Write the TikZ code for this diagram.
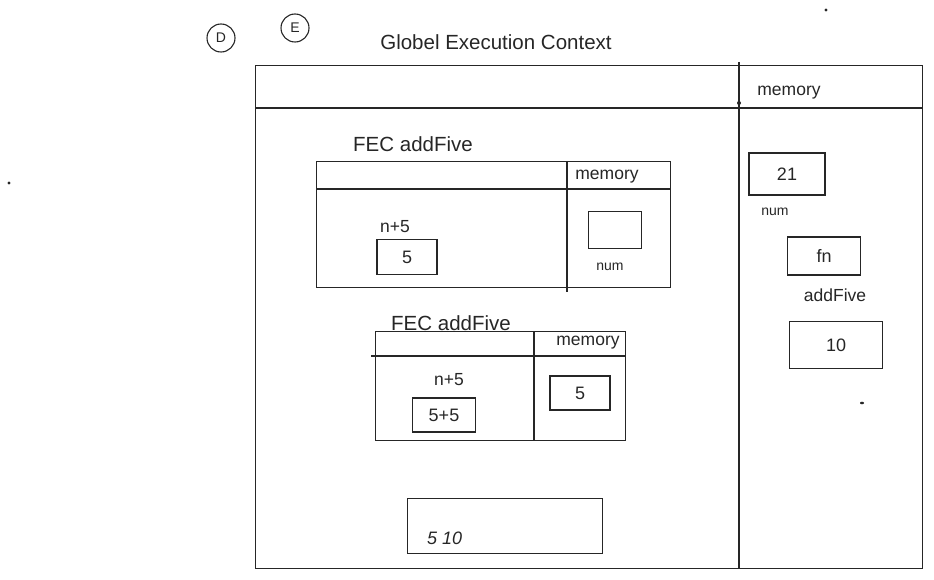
\documentclass[tikz,border=0pt]{standalone}
\usepackage{fontspec}
\setmainfont{Liberation Sans}
\begin{document}
\begin{tikzpicture}[x=1pt,y=-1pt,
  ink/.style={draw=black!85, line width=1.1pt},
  frame/.style={ink, rectangle, inner sep=0pt, anchor=north west},
  cell/.style={ink, rectangle, inner sep=0pt, text=black!85, font=\fontsize{18}{21}\selectfont},
  lbl/.style={inner sep=0pt, text=black!85, font=\fontsize{17.5}{21}\selectfont},
  big/.style={inner sep=0pt, text=black!85, font=\fontsize{20.5}{24}\selectfont},
  small/.style={inner sep=0pt, text=black!85, font=\fontsize{14}{17}\selectfont},
  badge/.style={ink, circle, minimum size=28pt, inner sep=0pt, text=black!85, font=\fontsize{14}{16}\selectfont}]
\useasboundingbox (0,0) rectangle (934,580);

% stray marks
\fill[black!85] (9,183) circle (1.6);
\fill[black!85] (826,10) circle (1.6);
\fill[black!85] (862,403) ellipse (2 and 1.3);

% badges and title
\node[badge] (badgeD) at (221,38) {D};
\node[badge] (badgeE) at (295,28) {E};
\node[big] (title) at (496,42) {Globel Execution Context};

% global execution context frame
\node[frame, minimum width=667pt, minimum height=503pt] (gec) at (255,65) {};
\coordinate (gecHL) at (255,108);
\coordinate (gecHR) at (922,108);
\coordinate (gecDT) at (739,62);
\coordinate (gecDB) at (739,568);
\draw[ink] (gecHL) -- (gecHR);
\draw[ink] (gecDT) -- (gecDB);
\fill[black!85] (739,103) circle (2);
\node[lbl] (gmem) at (789,93) {memory};

% global memory
\node[cell, minimum width=76pt, minimum height=42pt] (v21) at (787,174) {21};
\node[small] (gnum) at (775,212) {num};
\node[cell, minimum width=73pt, minimum height=38pt] (vfn) at (824,256) {fn};
\node[lbl] (gadd) at (835,295) {addFive};
\node[cell, minimum width=93pt, minimum height=47pt] (v10) at (836,345) {10};

% first function execution context
\node[big] (fec1t) at (413,144) {FEC addFive};
\node[frame, minimum width=354pt, minimum height=126pt] (fec1) at (316,161) {};
\coordinate (f1HL) at (316,189);
\coordinate (f1HR) at (670,189);
\coordinate (f1DT) at (567,161);
\coordinate (f1DB) at (567,292);
\draw[ink] (f1HL) -- (f1HR);
\draw[ink] (f1DT) -- (f1DB);
\node[lbl] (f1mem) at (607,177) {memory};
\node[lbl] (f1exp) at (395,227) {n+5};
\node[cell, minimum width=60pt, minimum height=35pt] (f1res) at (407,257) {5};
\node[cell, minimum width=53pt, minimum height=37pt] (f1slot) at (615,230) {};
\node[small] (f1num) at (610,267) {num};

% second function execution context
\node[big] (fec2t) at (451,323) {FEC addFive};
\node[frame, minimum width=250pt, minimum height=109pt] (fec2) at (375,331) {};
\coordinate (f2HL) at (371,356);
\coordinate (f2HR) at (625,356);
\coordinate (f2DT) at (534,331);
\coordinate (f2DB) at (534,440);
\draw[ink] (f2HL) -- (f2HR);
\draw[ink] (f2DT) -- (f2DB);
\node[lbl] (f2mem) at (588,343) {memory};
\node[lbl] (f2exp) at (449,380) {n+5};
\node[cell, minimum width=63pt, minimum height=34pt] (f2res) at (444,415) {5+5};
\node[cell, minimum width=60pt, minimum height=34pt] (f2slot) at (580,393) {5};

% output
\node[frame, minimum width=195pt, minimum height=55pt] (out) at (407,498) {};
\node[lbl, anchor=west, font=\fontsize{18}{21}\selectfont\itshape] (outtxt) at (427,538) {5 10};
\end{tikzpicture}
\end{document}
